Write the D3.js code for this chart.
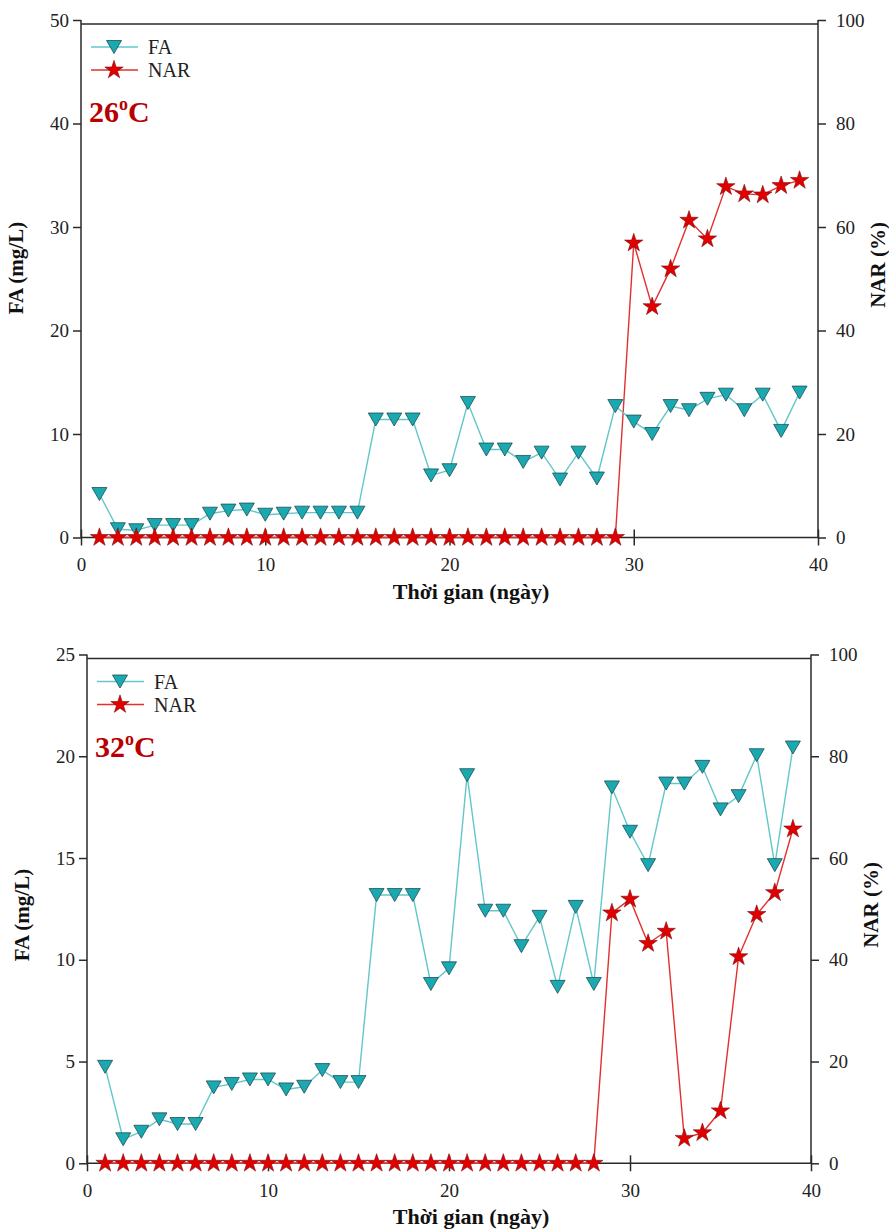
<!DOCTYPE html>
<html>
<head>
<meta charset="utf-8">
<script src="https://cdn.jsdelivr.net/npm/d3@7"></script>
<style>
  body { margin: 0; background: #fff; }
  svg { display: block; }
  text { font-family: "Liberation Serif", "Times New Roman", serif; }
</style>
</head>
<body>
<svg id="chart" width="889" height="1230"></svg>
<script>
// ---- Data ----
const days = d3.range(1, 40); // 1..39

// Panel 1: 26°C
const fa26 = [4.2, 0.8, 0.7, 1.2, 1.2, 1.2, 2.3, 2.6, 2.7, 2.2, 2.3, 2.4, 2.4, 2.4, 2.4,
              11.4, 11.4, 11.4, 6.0, 6.5, 13.0, 8.5, 8.5, 7.3, 8.2, 5.6, 8.2, 5.7, 12.7,
              11.2, 10.0, 12.7, 12.3, 13.4, 13.8, 12.3, 13.8, 10.3, 14.0];
const nar26 = [0, 0, 0, 0, 0, 0, 0, 0, 0, 0, 0, 0, 0, 0, 0, 0, 0, 0, 0, 0, 0, 0, 0, 0, 0, 0, 0, 0, 0,
               56.9, 44.6, 51.9, 61.3, 57.7, 67.8, 66.4, 66.2, 68.0, 69.0];

// Panel 2: 32°C
const fa32 = [4.74, 1.18, 1.55, 2.16, 1.93, 1.93, 3.73, 3.9, 4.12, 4.12, 3.63, 3.76, 4.58, 3.99, 3.99,
              13.18, 13.18, 13.18, 8.81, 9.58, 19.07, 12.41, 12.41, 10.67, 12.11, 8.67, 12.6, 8.81,
              18.47, 16.29, 14.65, 18.66, 18.66, 19.48, 17.39, 18.04, 20.05, 14.65, 20.43];
const nar32 = [0, 0, 0, 0, 0, 0, 0, 0, 0, 0, 0, 0, 0, 0, 0, 0, 0, 0, 0, 0, 0, 0, 0, 0, 0, 0, 0, 0,
               49.2, 51.9, 43.2, 45.6, 4.9, 6.0, 10.3, 40.6, 48.9, 53.2, 65.7];

const xTicks = [0, 10, 20, 30, 40];
const faTicks26 = [0, 10, 20, 30, 40, 50];
const faTicks32 = [0, 5, 10, 15, 20, 25];
const narTicks = [0, 20, 40, 60, 80, 100];

const seriesNames = ["FA", "NAR"];
const xTitle = "Thời gian (ngày)";
const yLeftTitle = "FA (mg/L)";
const yRightTitle = "NAR (%)";

// ---- Style ----
const faLine = "#63c7c9";
const faFill = "#1aa9b0";
const narLine = "#e2302f";
const narFill = "#e00000";
const axisColor = "#2a2a2a";
const tempColor = "#b80000";
const serif = "'Liberation Serif', 'Times New Roman', serif";

const svg = d3.select("#chart");

function triPath(w, h) {
  return `M${-w/2},${-h/2}L${w/2},${-h/2}L0,${h/2}Z`;
}
const starGen = d3.symbol().type(d3.symbolStar).size(105);

function drawPanel(cfg) {
  const g = svg.append("g");
  const x = d3.scaleLinear().domain([0, 40]).range([cfg.left, cfg.right]);
  const yL = d3.scaleLinear().domain([0, cfg.faMax]).range([cfg.bottom, cfg.top]);
  const yR = d3.scaleLinear().domain([0, 100]).range([cfg.bottom, cfg.top]);

  // frame top line
  g.append("line").attr("x1", cfg.left).attr("x2", cfg.right)
    .attr("y1", cfg.top + 4).attr("y2", cfg.top + 4)
    .attr("stroke", axisColor).attr("stroke-width", 1.5);

  const axL = g.append("g").attr("transform", `translate(${cfg.left},0)`)
    .call(d3.axisLeft(yL).tickValues(cfg.faTicks).tickSize(8).tickPadding(4));
  const axR = g.append("g").attr("transform", `translate(${cfg.right},0)`)
    .call(d3.axisRight(yR).tickValues(narTicks).tickSize(8).tickPadding(10));
  const axB = g.append("g").attr("transform", `translate(0,${cfg.bottom})`)
    .call(d3.axisBottom(x).tickValues(xTicks).tickSize(8).tickPadding(12));
  axB.selectAll(".tick line").attr("y1", -8);

  [axL, axR, axB].forEach(a => {
    a.attr("font-family", serif);
    a.select(".domain").attr("stroke", axisColor).attr("stroke-width", 1.5);
    a.selectAll(".tick line").attr("stroke", axisColor).attr("stroke-width", 1.5);
    a.selectAll(".tick text").attr("fill", "#222")
      .style("font-family", serif).style("font-size", "19px");
  });
  axL.select(".domain").attr("d", `M-0,${cfg.top}V${cfg.bottom}`);
  axR.select(".domain").attr("d", `M0,${cfg.top}V${cfg.bottom}`);
  axB.select(".domain").attr("d", `M${cfg.left},0H${cfg.right}`);

  // Titles
  g.append("text").attr("transform", `translate(${cfg.left - 58},${cfg.yLabelL}) rotate(-90)`)
    .attr("text-anchor", "middle").attr("font-weight", "bold").attr("font-size", 21)
    .attr("fill", "#111").text(yLeftTitle);
  g.append("text").attr("transform", `translate(${cfg.right + 67},${cfg.yLabelR}) rotate(-90)`)
    .attr("text-anchor", "middle").attr("font-weight", "bold").attr("font-size", 21)
    .attr("fill", "#111").text(yRightTitle);
  g.append("text").attr("x", cfg.xLabelX).attr("y", cfg.bottom + 61)
    .attr("text-anchor", "middle").attr("font-weight", "bold").attr("font-size", 22)
    .attr("fill", "#111").text(xTitle);

  const faData = days.map((d, i) => [d, cfg.fa[i]]);
  const narData = days.map((d, i) => [d, cfg.nar[i]]);

  g.append("path").datum(narData)
    .attr("d", d3.line().x(d => x(d[0])).y(d => yR(d[1])))
    .attr("fill", "none").attr("stroke", narLine).attr("stroke-width", 1.4);
  g.append("path").datum(faData)
    .attr("d", d3.line().x(d => x(d[0])).y(d => yL(d[1])))
    .attr("fill", "none").attr("stroke", faLine).attr("stroke-width", 1.4);

  g.selectAll(".tri").data(faData).enter().append("path")
    .attr("d", triPath(15, 13))
    .attr("transform", d => `translate(${x(d[0])},${yL(d[1])})`)
    .attr("fill", faFill).attr("stroke", "#1d4f55").attr("stroke-width", 0.8);

  g.selectAll(".star").data(narData).enter().append("path")
    .attr("d", starGen)
    .attr("transform", d => `translate(${x(d[0])},${yR(d[1])})`)
    .attr("fill", narFill).attr("stroke", "#7a1010").attr("stroke-width", 0.6);

  // Legend
  const lx = cfg.left + 10, ly1 = cfg.top + 27, ly2 = cfg.top + 50;
  g.append("line").attr("x1", lx).attr("x2", lx + 47).attr("y1", ly1).attr("y2", ly1)
    .attr("stroke", faLine).attr("stroke-width", 1.4);
  g.append("path").attr("d", triPath(15, 13)).attr("transform", `translate(${lx + 23},${ly1})`)
    .attr("fill", faFill).attr("stroke", "#1d4f55").attr("stroke-width", 0.8);
  g.append("text").attr("x", lx + 57).attr("y", ly1 + 7).attr("font-size", 20).attr("fill", "#222")
    .text(seriesNames[0]);
  g.append("line").attr("x1", lx).attr("x2", lx + 47).attr("y1", ly2).attr("y2", ly2)
    .attr("stroke", narLine).attr("stroke-width", 1.4);
  g.append("path").attr("d", starGen).attr("transform", `translate(${lx + 23},${ly2})`)
    .attr("fill", narFill).attr("stroke", "#7a1010").attr("stroke-width", 0.6);
  g.append("text").attr("x", lx + 57).attr("y", ly2 + 7).attr("font-size", 20).attr("fill", "#222")
    .text(seriesNames[1]);

  // Temperature label
  const t = g.append("text").attr("x", cfg.left + 8).attr("y", cfg.top + 102)
    .attr("font-size", 30).attr("font-weight", "bold").attr("fill", tempColor);
  t.append("tspan").text(cfg.tempNum);
  t.append("tspan").attr("dy", -12).attr("font-size", 18).text("o");
  t.append("tspan").attr("dy", 12).text("C");
}

drawPanel({ left: 81, right: 818, top: 20, bottom: 537.5, faMax: 50, faTicks: faTicks26,
  fa: fa26, nar: nar26, tempNum: "26", yLabelL: 268, yLabelR: 265, xLabelX: 471 });
drawPanel({ left: 87, right: 811, top: 654.5, bottom: 1163.3, faMax: 25, faTicks: faTicks32,
  fa: fa32, nar: nar32, tempNum: "32", yLabelL: 915, yLabelR: 905, xLabelX: 471 });
</script>
</body>
</html>
